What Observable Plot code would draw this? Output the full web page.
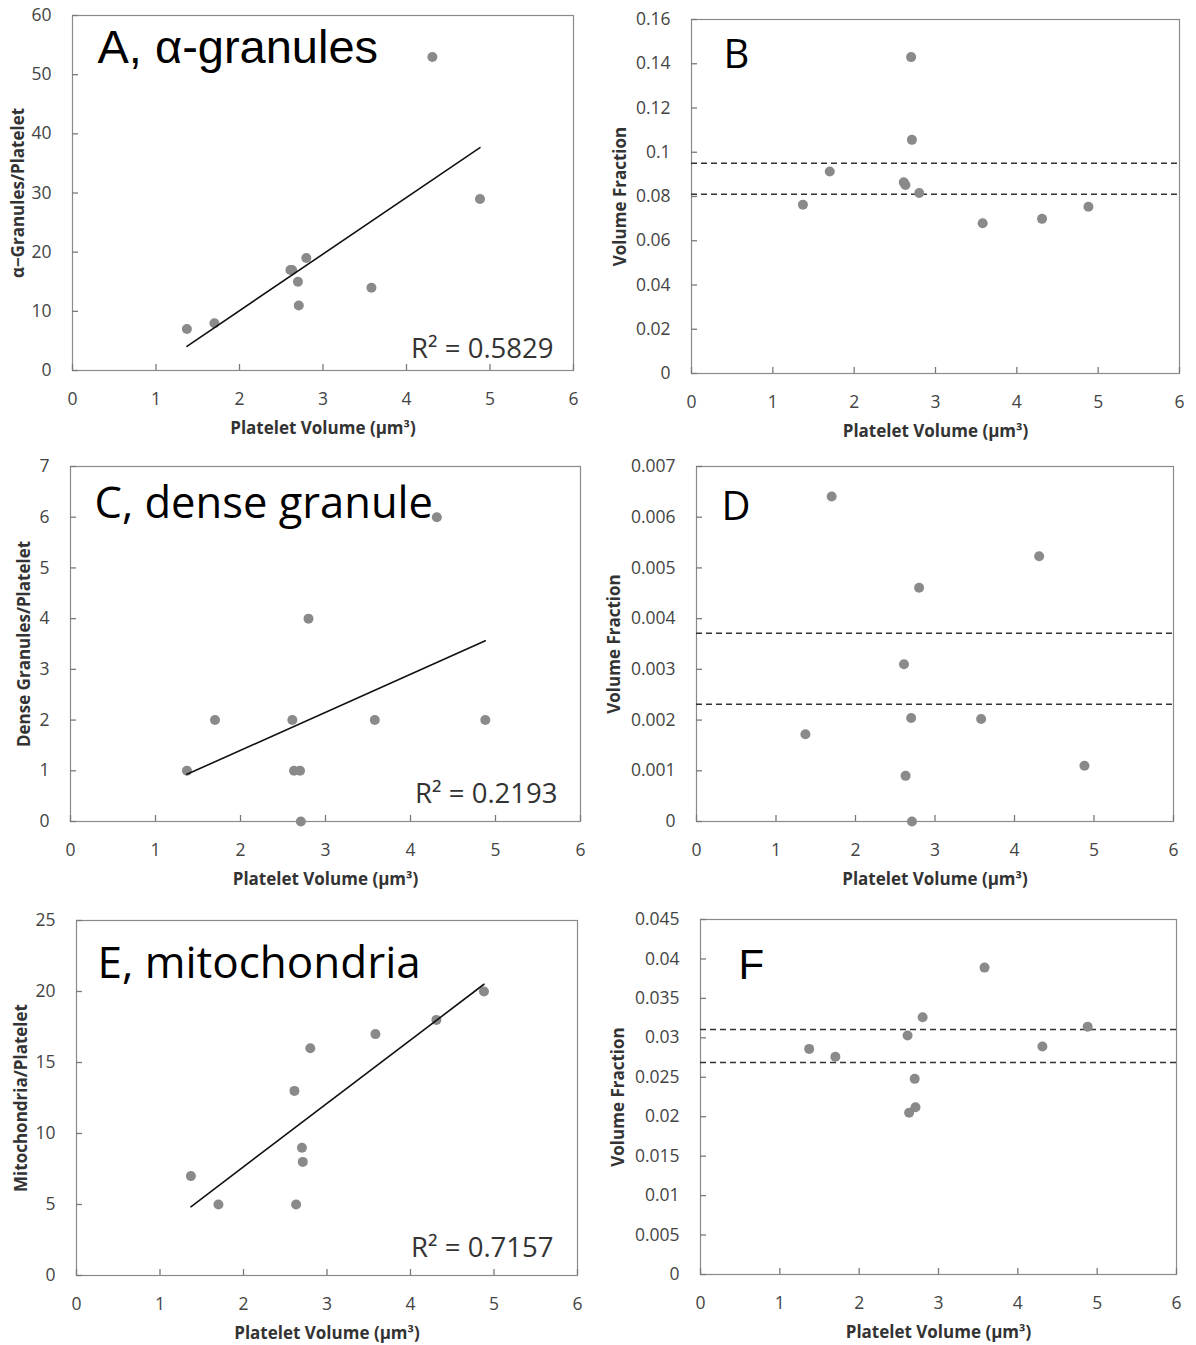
<!DOCTYPE html>
<html><head><meta charset="utf-8">
<script src="https://cdn.jsdelivr.net/npm/d3@7"></script>
<script src="https://cdn.jsdelivr.net/npm/@observablehq/plot@0.6"></script>
<style>
body{margin:0;background:#fff;}
#wrap{position:relative;width:1196px;height:1345px;background:#fff;overflow:hidden;}
#wrap svg{position:absolute;max-width:none;background:transparent;}
</style></head><body><div id="wrap"></div>
<script>
// Platelet volumes (µm³), one per platelet, shared by all panels
const platVol    = [1.37, 1.70, 2.61, 2.63, 2.70, 2.71, 2.80, 3.58, 4.31, 4.88];
// A: alpha granules per platelet
const alphaCount = [7, 8, 17, 17, 15, 11, 19, 14, 53, 29];
// B: alpha granule volume fraction
const alphaFrac  = [0.0763, 0.0913, 0.0864, 0.0852, 0.143, 0.1056, 0.0816, 0.0679, 0.0699, 0.0754];
// C: dense granules per platelet
const denseCount = [1, 2, 2, 1, 1, 0, 4, 2, 6, 2];
// D: dense granule volume fraction
const denseFrac  = [0.00172, 0.00641, 0.0031, 0.0009, 0.00204, 0, 0.00461, 0.00202, 0.00523, 0.0011];
// E: mitochondria per platelet
const mitoCount  = [7, 5, 13, 5, 9, 8, 16, 17, 18, 20];
// F: mitochondria volume fraction
const mitoFrac   = [0.0286, 0.0276, 0.0303, 0.0205, 0.0248, 0.0212, 0.0326, 0.0389, 0.0289, 0.0314];
// dashed reference bands
const alphaBand = [0.095, 0.081];
const denseBand = [0.00371, 0.00231];
const mitoBand  = [0.03105, 0.02686];
// ticks
const xTicks  = [0, 1, 2, 3, 4, 5, 6];
const yTicksA = [0, 10, 20, 30, 40, 50, 60];
const yTicksB = [0, 0.02, 0.04, 0.06, 0.08, 0.1, 0.12, 0.14, 0.16];
const yTicksC = [0, 1, 2, 3, 4, 5, 6, 7];
const yTicksD = [0, 0.001, 0.002, 0.003, 0.004, 0.005, 0.006, 0.007];
const yTicksE = [0, 5, 10, 15, 20, 25];
const yTicksF = [0, 0.005, 0.01, 0.015, 0.02, 0.025, 0.03, 0.035, 0.04, 0.045];
const xLabel = "Platelet Volume (µm³)";

const panels = [
  {left:0, top:0, width:600, height:450, m:[15,27,80,72], y:alphaCount, ticks:yTicksA,
   ylab:"α−Granules/Platelet", ylabDx:-54, title:"A, α-granules", tFont:"Liberation Sans", tSize:47, tdx:25, tdy:47,
   r2:"R² = 0.5829", r2dx:-20, r2dy:-13, reg:true},
  {left:598, top:0, width:598, height:450, m:[19,17,77,93], y:alphaFrac, ticks:yTicksB,
   ylab:"Volume Fraction", ylabDx:-71, title:"B", tFont:"Open Sans", tSize:40, tdx:32, tdy:48, band:alphaBand},
  {left:0, top:450, width:600, height:450, m:[16,20,79,70], y:denseCount, ticks:yTicksC,
   ylab:"Dense Granules/Platelet", ylabDx:-46, title:"C, dense granule", tFont:"Open Sans", tSize:43.5, tdx:24, tdy:51,
   r2:"R² = 0.2193", r2dx:-23, r2dy:-19, reg:true},
  {left:598, top:450, width:598, height:450, m:[16,23,79,98], y:denseFrac, ticks:yTicksD,
   ylab:"Volume Fraction", ylabDx:-82, title:"D", tFont:"Open Sans", tSize:40, tdx:25, tdy:53, band:denseBand},
  {left:0, top:900, width:600, height:445, m:[20,23,70,76], y:mitoCount, ticks:yTicksE,
   ylab:"Mitochondria/Platelet", ylabDx:-55, title:"E, mitochondria", tFont:"Open Sans", tSize:44, tdx:21, tdy:57,
   r2:"R² = 0.7157", r2dx:-24, r2dy:-19, reg:true},
  {left:598, top:900, width:598, height:445, m:[19,20,71,102], y:mitoFrac, ticks:yTicksF,
   ylab:"Volume Fraction", ylabDx:-82, title:"F", tFont:"Liberation Sans", tSize:42, tdx:38, tdy:59, band:mitoBand}
];

const fmt = d => String(+d.toFixed(4));
const wrap = document.getElementById("wrap");

for (const p of panels) {
  const data = platVol.map((x, i) => ({x, y: p.y[i]}));
  const ticks = p.ticks;
  const marks = [
    Plot.frame({stroke:"#8a8a8a", strokeWidth:1.2}),
    Plot.axisX(xTicks, {tickSize:6, dy:-6, tickPadding:22, stroke:"#7a7a7a", strokeWidth:1.3, fill:"#444", label:null, fontSize:17.5}),
    Plot.axisY(ticks, {tickSize:6, dx:6, tickPadding:21, stroke:"#7a7a7a", strokeWidth:1.3, fill:"#444", label:null, tickFormat:fmt, fontSize:17.5}),
  ];
  if (p.band) marks.push(Plot.ruleY(p.band, {stroke:"#333", strokeWidth:1.5, strokeDasharray:"6,4"}));
  marks.push(Plot.dot(data, {x:"x", y:"y", r:5, fill:"#8a8a8a", stroke:"none"}));
  if (p.reg) marks.push(Plot.linearRegressionY(data, {x:"x", y:"y", ci:0, stroke:"#111", strokeWidth:1.6}));
  marks.push(Plot.text([p.title], {text:d=>d, frameAnchor:"top-left", textAnchor:"start", lineAnchor:"bottom",
    dx:p.tdx, dy:p.tdy, fontSize:p.tSize, fontFamily:p.tFont, fill:"#000"}));
  if (p.r2) marks.push(Plot.text([p.r2], {text:d=>d, frameAnchor:"bottom-right", textAnchor:"end", lineAnchor:"bottom",
    dx:p.r2dx, dy:p.r2dy, fontSize:27.5, fill:"#333"}));
  marks.push(Plot.text([p.ylab], {text:d=>d, frameAnchor:"left", rotate:-90, textAnchor:"middle", lineAnchor:"middle",
    dx:p.ylabDx, fontSize:17, fontWeight:"bold", fill:"#333"}));
  marks.push(Plot.text([xLabel], {text:d=>d, frameAnchor:"bottom", textAnchor:"middle", lineAnchor:"bottom",
    dy:63, fontSize:17, fontWeight:"bold", fill:"#333"}));

  const svg = Plot.plot({
    width:p.width, height:p.height,
    marginTop:p.m[0], marginRight:p.m[1], marginBottom:p.m[2], marginLeft:p.m[3],
    x:{domain:[0,6]},
    y:{domain:[ticks[0], ticks[ticks.length-1]]},
    style:{fontFamily:"Open Sans", fontSize:"17px", background:"transparent", overflow:"visible"},
    marks
  });
  svg.style.left = p.left + "px";
  svg.style.top = p.top + "px";
  wrap.appendChild(svg);
}
</script></body></html>
